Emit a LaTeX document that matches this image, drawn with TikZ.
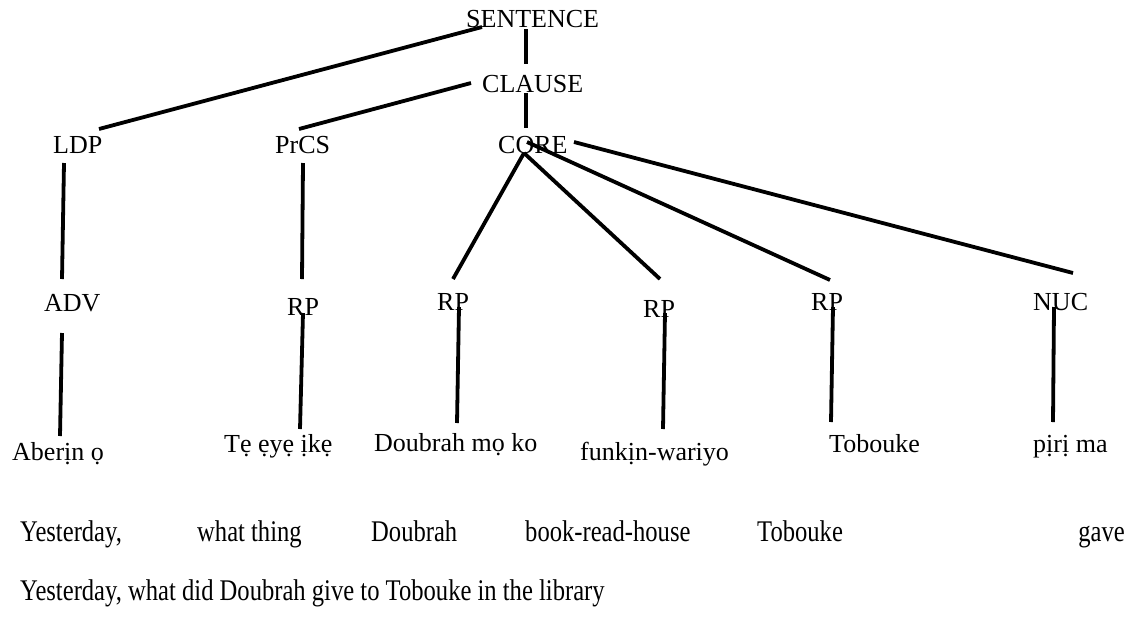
\documentclass[tikz,border=0pt]{standalone}
\usepackage{fontspec}
\setmainfont{Liberation Serif}
\newfontfamily\glossfont[FakeStretch=0.82]{Liberation Serif}
\begin{document}
\begin{tikzpicture}[x=1pt,y=-1pt,
  lbl/.style={inner sep=0pt, anchor=base west, font=\fontsize{26}{30}\selectfont},
  gl/.style={inner sep=0pt, anchor=base west, font=\glossfont\fontsize{30}{34}\selectfont},
  edge/.style={line width=3.8pt, line cap=butt}]
\useasboundingbox[fill=white] (0,0) rectangle (1135,619);

% tree labels
\node[lbl] (sentence) at (466,27) {SENTENCE};
\node[lbl] (clause) at (482,92) {CLAUSE};
\node[lbl] (core) at (498,153) {CORE};
\node[lbl] (ldp) at (53,153) {LDP};
\node[lbl] (prcs) at (275,153) {PrCS};
\node[lbl] (adv) at (44,311) {ADV};
\node[lbl] (rpa) at (287,315) {RP};
\node[lbl] (rpb) at (437,310) {RP};
\node[lbl] (rpc) at (643,317) {RP};
\node[lbl] (rpd) at (811,310) {RP};
\node[lbl] (nuc) at (1033,310) {NUC};

% words
\node[lbl] (wa) at (12,460) {Aberịn ọ};
\node[lbl] (wb) at (224,452) {Tẹ ẹyẹ ịkẹ};
\node[lbl] (wc) at (374,451) {Doubrah mọ ko};
\node[lbl] (wd) at (580,460) {funkịn-wariyo};
\node[lbl] (we) at (829,452) {Tobouke};
\node[lbl] (wf) at (1033,452) {pịrị ma};

% gloss and translation
\node[gl] (ga) at (20,541) {Yesterday,};
\node[gl] (gb) at (197,541) {what thing};
\node[gl] (gc) at (371,541) {Doubrah};
\node[gl] (gd) at (525,541) {book-read-house};
\node[gl] (ge) at (757,541) {Tobouke};
\node[gl, anchor=base east] (gf) at (1125,541) {gave};
\node[gl] (tr) at (20,600) {Yesterday, what did Doubrah give to Tobouke in the library};

% branch end points
\coordinate (sentence-l) at (482,27);
\coordinate (sentence-b) at (526,29);
\coordinate (clause-t) at (526,64);
\coordinate (clause-l) at (471,83);
\coordinate (clause-b) at (526,93);
\coordinate (core-t) at (526,128);
\coordinate (core-b) at (524,153);
\coordinate (core-m) at (527,142);
\coordinate (core-r) at (574,142);
\coordinate (ldp-t) at (99,129);
\coordinate (ldp-b) at (64,163);
\coordinate (prcs-t) at (299,129);
\coordinate (prcs-b) at (303,163);
\coordinate (adv-t) at (62,279);
\coordinate (adv-b) at (62,333);
\coordinate (rpa-t) at (302,279);
\coordinate (rpa-b) at (303,313);
\coordinate (rpb-t) at (453,279);
\coordinate (rpb-b) at (459,307);
\coordinate (rpc-t) at (660,279);
\coordinate (rpc-b) at (665,313);
\coordinate (rpd-t) at (830,280);
\coordinate (rpd-b) at (833,307);
\coordinate (nuc-t) at (1073,273);
\coordinate (nuc-b) at (1054,307);
\coordinate (wa-t) at (60,436);
\coordinate (wb-t) at (300,429);
\coordinate (wc-t) at (457,423);
\coordinate (wd-t) at (663,429);
\coordinate (we-t) at (831,422);
\coordinate (wf-t) at (1053,422);

% branches
\draw[edge] (sentence-l) -- (ldp-t);
\draw[edge] (sentence-b) -- (clause-t);
\draw[edge] (clause-l) -- (prcs-t);
\draw[edge] (clause-b) -- (core-t);
\draw[edge] (ldp-b) -- (adv-t);
\draw[edge] (prcs-b) -- (rpa-t);
\draw[edge] (core-b) -- (rpb-t);
\draw[edge] (core-b) -- (rpc-t);
\draw[edge] (core-m) -- (rpd-t);
\draw[edge] (core-r) -- (nuc-t);
\draw[edge] (adv-b) -- (wa-t);
\draw[edge] (rpa-b) -- (wb-t);
\draw[edge] (rpb-b) -- (wc-t);
\draw[edge] (rpc-b) -- (wd-t);
\draw[edge] (rpd-b) -- (we-t);
\draw[edge] (nuc-b) -- (wf-t);
\end{tikzpicture}
\end{document}
